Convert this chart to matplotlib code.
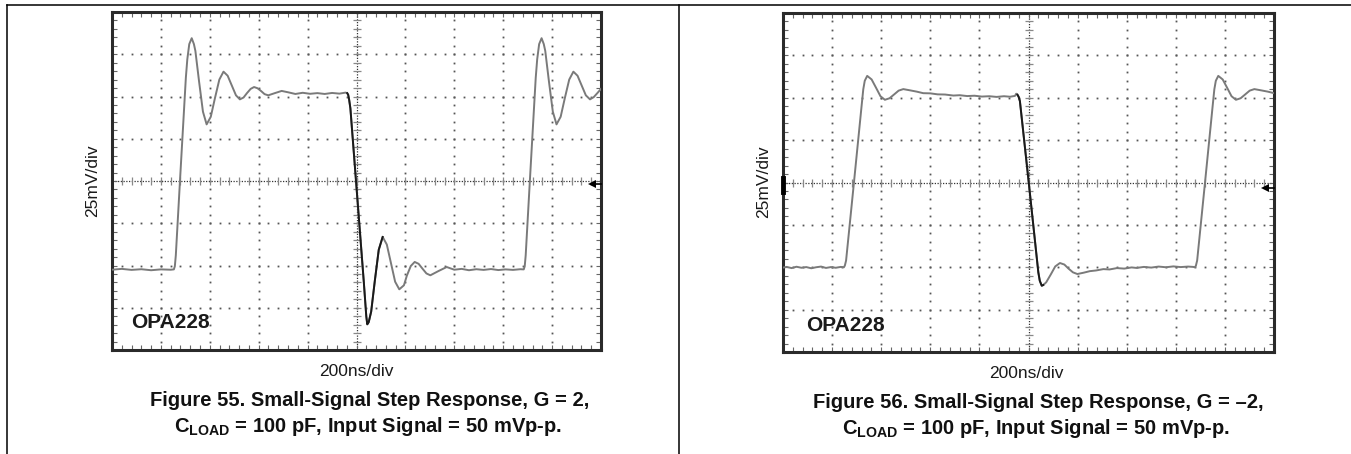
import numpy as np
import matplotlib
matplotlib.use("Agg")
import matplotlib.pyplot as plt
from matplotlib.lines import Line2D

plt.rcParams['font.family'] = ['Liberation Sans', 'DejaVu Sans']
plt.rcParams['mathtext.fontset'] = 'custom'
plt.rcParams['mathtext.rm'] = 'Liberation Sans'
plt.rcParams['mathtext.bf'] = 'Liberation Sans:bold'

# ---------------- data (time in ns, voltage in mV) ----------------
left_t = [0, 40, 80, 120, 160, 200, 240, 253,
          257, 261, 278, 302, 308, 316, 326,
          335, 341, 356, 372, 387,
          404, 421, 439, 456,
          473, 490, 507, 523,
          538, 552, 567, 581,
          595, 610, 624, 639,
          666, 694,
          720, 750, 780, 810, 840, 870, 900, 930, 955, 962,
          966, 970, 975, 998, 1030, 1035, 1040, 1044,
          1050, 1060, 1075, 1091, 1107,
          1124, 1141, 1158, 1175,
          1194, 1206, 1222, 1238,
          1254, 1270, 1286, 1302,
          1335, 1369,
          1400, 1430, 1460, 1490, 1520, 1550, 1580, 1610, 1640, 1670, 1684,
          1688, 1692, 1709, 1733, 1739, 1747, 1757,
          1766, 1772, 1787, 1803, 1818,
          1835, 1852, 1870, 1887,
          1904, 1921, 1938, 1955,
          1970, 1985, 2000]
left_mv = [-52.5, -52.0, -52.6, -52.2, -52.8, -52.3, -52.5, -52.3,
           -50.5, -44.0, 0.0, 61.0, 72.0, 81.0, 84.5,
           81.0, 77.0, 59.0, 41.0, 33.5,
           38.0, 49.0, 60.0, 64.7,
           62.3, 56.5, 50.7, 48.3,
           49.4, 52.0, 54.5, 55.6,
           54.9, 53.2, 51.4, 50.7,
           52.0, 53.3,
           52.5, 51.5, 52.2, 51.6, 52.0, 51.5, 52.1, 51.7, 52.3, 52.0,
           51.0, 48.0, 43.0, 0.0, -60.0, -70.0, -80.0, -84.8,
           -83.5, -77.3, -59.0, -40.7, -33.1,
           -37.6, -48.6, -59.6, -64.1,
           -61.7, -56.0, -50.3, -47.9,
           -49.0, -51.9, -54.7, -55.8,
           -53.3, -50.9,
           -52.5, -52.0, -52.8, -52.2, -52.6, -52.1, -52.7, -52.3, -52.6, -52.2, -52.3,
           -50.5, -44.0, 0.0, 61.0, 72.0, 81.0, 84.5,
           81.0, 77.0, 59.0, 41.0, 33.5,
           38.0, 49.0, 60.0, 64.7,
           62.3, 56.5, 50.7, 48.3,
           49.6, 52.0, 54.5]

right_t = [0, 15, 35, 55, 75, 95, 115, 135, 155, 175, 195, 215, 235, 248,
           252, 257, 289, 320, 327, 333, 343,
           361, 379, 397, 415,
           434, 453, 471, 490,
           520, 545, 571, 600, 630, 660, 694, 720, 750, 780, 810, 840, 870, 900, 925, 945,
           950, 955, 960, 965,
           1001, 1040, 1046, 1054,
           1060, 1072, 1091, 1109, 1128,
           1146, 1163, 1181, 1199,
           1225, 1250, 1275, 1305, 1330, 1360, 1390, 1420, 1440, 1470, 1500, 1530,
           1560, 1590, 1620, 1650, 1671, 1678,
           1682, 1687, 1719, 1750, 1757, 1763, 1773,
           1791, 1809, 1827, 1845,
           1864, 1883, 1901, 1920,
           1950, 1975, 2000]
right_mv = [-50.2, -49.8, -50.5, -49.7, -50.3, -49.9, -50.6, -50.0, -49.6, -50.4, -49.9, -50.3, -49.8, -50.0,
            -49.0, -46.0, 0.0, 45.0, 55.0, 60.0, 62.9,
            60.8, 55.9, 50.9, 48.8,
            49.7, 52.0, 54.2, 55.1,
            54.3, 53.6, 52.7, 52.6, 52.0, 51.9, 51.3, 51.5, 51.0, 51.2, 50.7, 50.9, 50.5, 50.9, 50.6, 51.1,
            52.4, 51.8, 50.5, 48.0,
            0.0, -53.0, -58.0, -60.9,
            -60.5, -58.9, -54.2, -49.5, -47.5,
            -48.4, -50.8, -53.0, -54.0,
            -53.2, -52.3, -51.9, -51.1, -51.3, -50.5, -50.8, -50.1, -50.4, -49.8, -50.2, -49.6,
            -50.0, -49.5, -49.9, -49.6, -49.8, -50.0,
            -49.0, -46.0, 0.0, 45.0, 55.0, 60.0, 62.9,
            60.8, 55.9, 50.9, 48.8,
            49.7, 52.0, 54.2, 55.1,
            54.3, 53.6, 52.7]

x_label = "200ns/div"
y_label = "25mV/div"
device = "OPA228"
caption_left = ["Figure 55. Small-Signal Step Response, G = 2,",
                r"$\mathbf{C_{LOAD}}$ = 100 pF, Input Signal = 50 mVp-p."]
caption_right = ["Figure 56. Small-Signal Step Response, G = \u20132,",
                 r"$\mathbf{C_{LOAD}}$ = 100 pF, Input Signal = 50 mVp-p."]
time_div = 200     # ns per division
volt_div = 25      # mV per division
n_xdiv = 10
n_ydiv = 8

W, H = 1351, 454
fig = plt.figure(figsize=(W / 100, H / 100), dpi=100)


def fx(px):
    return px / W


def fy(py):
    return 1 - py / H


def scope(rect, t, v, dark_range, ref_y, trig=None):
    ax = fig.add_axes(rect)
    xmax = time_div * n_xdiv
    ymax = volt_div * n_ydiv / 2
    ax.set_xlim(0, xmax)
    ax.set_ylim(-ymax, ymax)
    for s in ax.spines.values():
        s.set_linewidth(2.2)
        s.set_color('#2a2a2a')
    ax.set_xticks(np.arange(0, xmax + 1, time_div / 5))
    ax.set_yticks(np.arange(-ymax, ymax + 1, volt_div / 5))
    ax.tick_params(which='both', direction='in', length=3.5, width=0.8,
                   color='#666666', top=True, right=True,
                   labelbottom=False, labelleft=False)
    # dotted graticule
    fine_y = np.arange(-ymax, ymax + 0.1, volt_div / 5)
    fine_x = np.arange(0, xmax + 0.1, time_div / 5)
    for i in range(1, n_xdiv):
        if i == n_xdiv // 2:
            continue
        ax.plot(np.full_like(fine_y, i * time_div), fine_y, ls='none',
                marker='s', ms=1.3, mew=0, color='#555555', zorder=1)
    for j in range(1, n_ydiv):
        if j == n_ydiv // 2:
            continue
        yy = -ymax + j * volt_div
        ax.plot(fine_x, np.full_like(fine_x, yy), ls='none',
                marker='s', ms=1.3, mew=0, color='#555555', zorder=1)
    # centre cross with ticks
    ax.axhline(0, ls=(0, (1, 1.2)), lw=0.9, color='#333333', zorder=1)
    ax.axvline(xmax / 2, ls=(0, (1, 1.2)), lw=0.9, color='#333333', zorder=1)
    ax.plot(fine_x, np.zeros_like(fine_x), ls='none', marker='|', ms=5.5,
            mew=0.9, color='#888888', zorder=1)
    ax.plot(np.full_like(fine_y, xmax / 2), fine_y, ls='none', marker='_',
            ms=5.5, mew=0.9, color='#888888', zorder=1)
    # trace
    t = np.asarray(t, float)
    v = np.asarray(v, float)
    ax.plot(t, v, color='#7a7a7a', lw=1.4, zorder=3, solid_joinstyle='round')
    m = (t >= dark_range[0]) & (t <= dark_range[1])
    ax.plot(t[m], v[m], color='#1a1a1a', lw=1.4, zorder=4)
    # ground reference arrow
    ax.plot([xmax * 0.982, xmax], [ref_y, ref_y], color='black', lw=1.2,
            zorder=5, clip_on=False)
    ax.plot([xmax * 0.982], [ref_y], marker='<', ms=6, color='black',
            mew=0, zorder=5)
    if trig is not None:
        ax.plot([0, 0], trig, color='black', lw=3.5, zorder=6, clip_on=False)
    return ax


axL = scope([fx(112), fy(350), fx(489), 338 / H], left_t, left_mv,
            (960, 1110), -1.7)
axR = scope([fx(783), fy(352), fx(491), 339 / H], right_t, right_mv,
            (955, 1062), -3.1, trig=(2.8, -5.5))

for ax, (xo, yo) in ((axL, (0.04, 0.08)), (axR, (0.047, 0.077))):
    ax.text(xo, yo, device, transform=ax.transAxes, fontsize=15,
            fontweight='bold', color='#1a1a1a', ha='left', va='center',
            zorder=7)

# axis labels
fig.text(fx(93), fy(181), y_label, rotation=90, ha='center', va='center',
         fontsize=12.5, color='#1a1a1a')
fig.text(fx(764), fy(182), y_label, rotation=90, ha='center', va='center',
         fontsize=12.5, color='#1a1a1a')
fig.text(fx(356), fy(371), x_label, ha='center', va='center', fontsize=12.5,
         color='#1a1a1a')
fig.text(fx(1026), fy(374), x_label, ha='center', va='center', fontsize=12.5,
         color='#1a1a1a')

# captions
fig.text(fx(370), fy(401), caption_left[0], ha='center', va='center',
         fontsize=14.5, fontweight='bold', color='#111111')
fig.text(fx(368), fy(427), caption_left[1], ha='center', va='center',
         fontsize=14.5, fontweight='bold', color='#111111')
fig.text(fx(1038), fy(402), caption_right[0], ha='center', va='center',
         fontsize=14.5, fontweight='bold', color='#111111')
fig.text(fx(1036), fy(428), caption_right[1], ha='center', va='center',
         fontsize=14.5, fontweight='bold', color='#111111')

# page frame lines
for line in (Line2D([fx(7), 1], [fy(5), fy(5)]),
             Line2D([fx(7), fx(7)], [fy(5), 0]),
             Line2D([fx(679), fx(679)], [fy(5), 0])):
    line.set_color('black')
    line.set_linewidth(1.1)
    fig.add_artist(line)

fig.savefig('out.png', dpi=100)
